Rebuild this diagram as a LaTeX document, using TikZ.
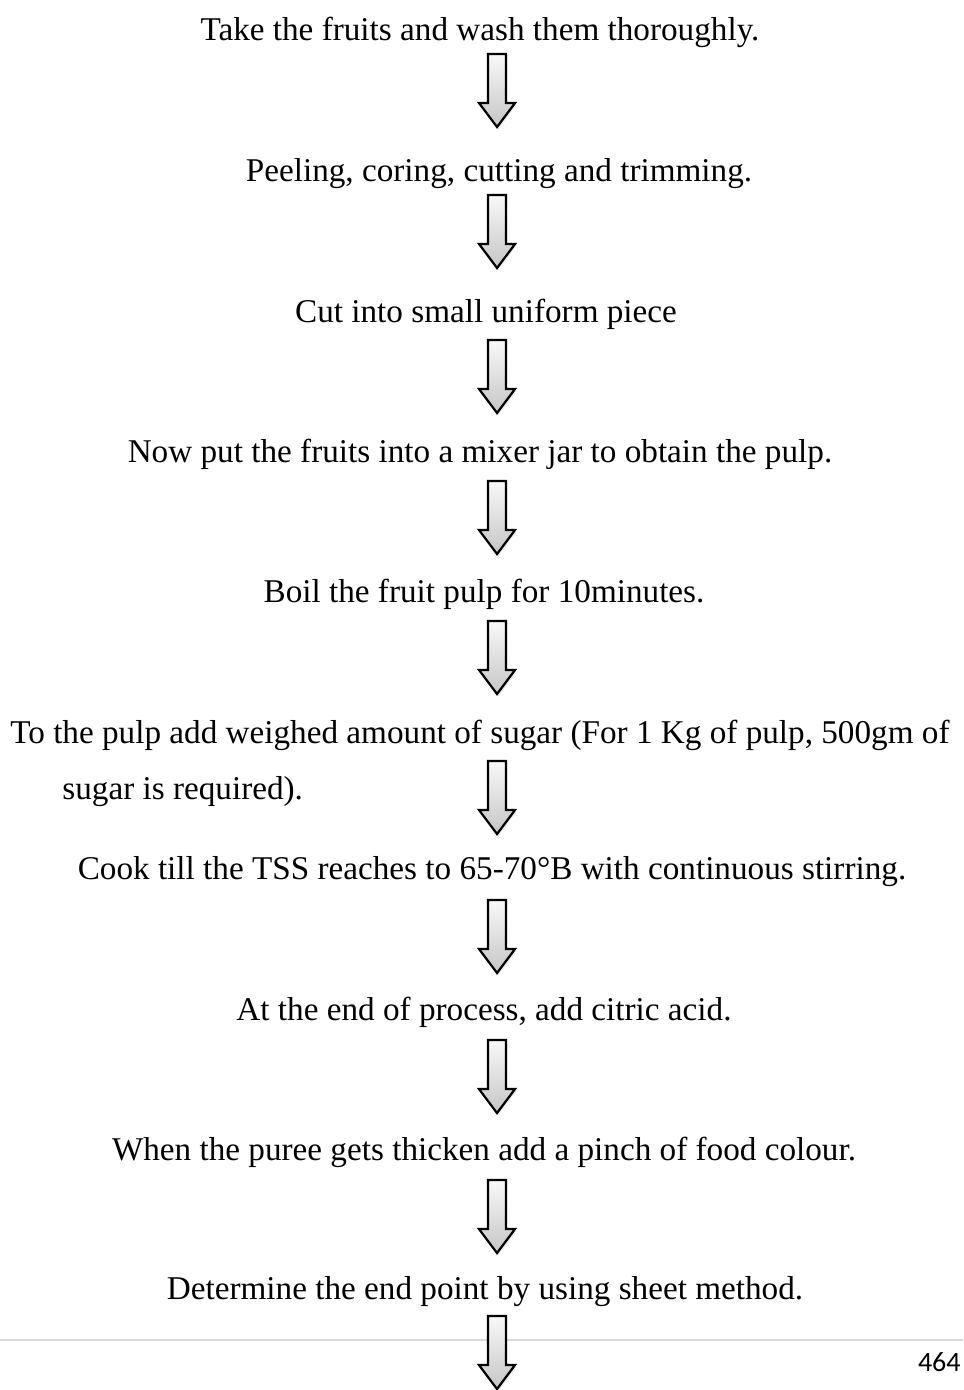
\documentclass[tikz,border=0pt]{standalone}
\usepackage{fontspec}
\setmainfont{Liberation Serif}
\newfontfamily\pagefont{Carlito}
\usetikzlibrary{shadows}

% block arrow pointing down, top centre at (#2,#3)
\newcommand{\flowarrow}[3]{%
  \coordinate (#1) at (#2,#3);
  \draw[darrow] (#1) ++(-9,0) -- ++(18,0) -- ++(0,49) -- ++(9,0)
    -- ++(-18,24) -- ++(-18,-24) -- ++(9,0) -- cycle;
}

\begin{document}
\begin{tikzpicture}[x=0.5pt, y=-0.5pt]
	\tikzset{
	    stext/.style= {inner sep=0pt, font=\fontsize{16.6}{19}\selectfont},
	    darrow/.style= {draw=black, line width=1.1pt, line join=miter,
	        top color=gray!5, bottom color=gray!45,
	        drop shadow={shadow xshift=0.6pt, shadow yshift=-1.2pt, opacity=0.18}},
	}
	\useasboundingbox (0,0) rectangle (963,1390);

	% footer rule and page number
	\draw[gray!30, line width=0.8pt] (0,1340) coordinate (rl) -- (963,1340) coordinate (rr);
	\node[anchor=east, inner sep=0pt, font=\pagefont\fontsize{14}{16}\selectfont] (pg) at (961,1362) {464};

	\node[stext] (s1) at (480,32) {Take the fruits and wash them thoroughly.};
	\node[stext] (s2) at (499,174) {Peeling, coring, cutting and trimming.};
	\node[stext] (s3) at (486,314) {Cut into small uniform piece};
	\node[stext] (s4) at (480,454) {Now put the fruits into a mixer jar to obtain the pulp.};
	\node[stext] (s5) at (484,594) {Boil the fruit pulp for 10minutes.};
	\node[stext, anchor=west] (s6) at (10,735) {To the pulp add weighed amount of sugar (For 1 Kg of pulp, 500gm of};
	\node[stext, anchor=west] (s6b) at (62,792) {sugar is required).};
	\node[stext] (s7) at (492,872) {Cook till the TSS reaches to 65-70°B with continuous stirring.};
	\node[stext] (s8) at (484,1012) {At the end of process, add citric acid.};
	\node[stext] (s9) at (484,1152) {When the puree gets thicken add a pinch of food colour.};
	\node[stext] (s10) at (485,1292) {Determine the end point by using sheet method.};

	\flowarrow{a1}{497}{54}
	\flowarrow{a2}{497}{195}
	\flowarrow{a3}{497}{340}
	\flowarrow{a4}{497}{481}
	\flowarrow{a5}{497}{621}
	\flowarrow{a6}{497}{761}
	\flowarrow{a7}{497}{900}
	\flowarrow{a8}{497}{1040}
	\flowarrow{a9}{497}{1180}
	\flowarrow{a10}{497}{1316}
\end{tikzpicture}
\end{document}
